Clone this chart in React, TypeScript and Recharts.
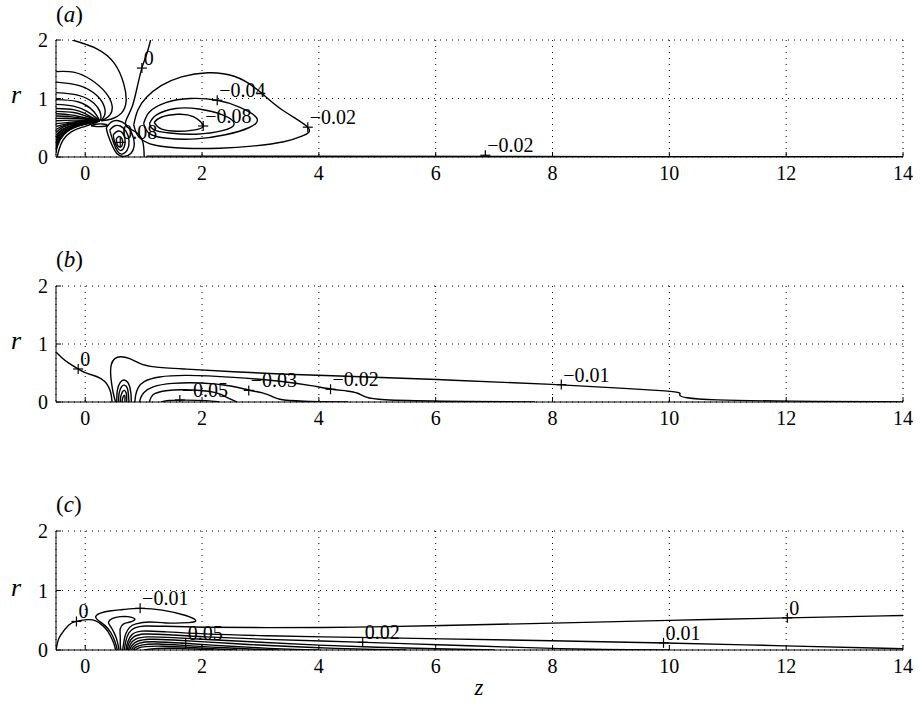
import React from "react";
import { ComposedChart, Line, Scatter, XAxis, YAxis, CartesianGrid } from "recharts";

type Pair = [number, number];
type Mark = { z: number; r: number; t: string };

const SERIF = '"Liberation Serif", "DejaVu Serif", serif';

const zTicks = [0, 2, 4, 6, 8, 10, 12, 14];
const rTicks = [0, 1, 2];

// ---- panel (a) contours, [z, r]
const aZero: Pair[] = [[1.12, 2], [1.05, 1.75], [0.97, 1.52], [0.88, 1.15], [0.8, 0.85], [0.7, 0.63], [0.72, 0.51], [0.89, 0.41], [0.99, 0.24], [1.01, 0]];
const aArc1: Pair[] = [[-0.22, 2], [0.2, 1.85], [0.5, 1.6], [0.66, 1.25], [0.7, 0.95], [0.62, 0.75], [0.45, 0.65], [0.28, 0.62]];
const aArc2: Pair[] = [[-0.5, 1.46], [-0.2, 1.45], [0.1, 1.32], [0.35, 1.1], [0.46, 0.88], [0.43, 0.73], [0.34, 0.65], [0.27, 0.62]];
const aArc3: Pair[] = [[-0.5, 1.28], [-0.1, 1.22], [0.2, 1.05], [0.33, 0.85], [0.33, 0.71], [0.27, 0.62]];
const aArc4: Pair[] = [[-0.5, 1.1], [-0.1, 1.05], [0.15, 0.92], [0.25, 0.78], [0.27, 0.68], [0.26, 0.62]];
const aArc5: Pair[] = [[-0.5, 0.98], [-0.15, 0.95], [0.08, 0.84], [0.19, 0.72], [0.25, 0.62]];
const aArc6: Pair[] = [[-0.5, 0.9], [-0.2, 0.87], [0.03, 0.78], [0.16, 0.69], [0.25, 0.62]];
const aArc7: Pair[] = [[-0.5, 0.83], [-0.2, 0.81], [0, 0.74], [0.13, 0.67], [0.25, 0.62]];
const aArc8: Pair[] = [[-0.5, 0.78], [-0.2, 0.76], [-0.02, 0.71], [0.12, 0.66], [0.25, 0.62]];
const aArc9: Pair[] = [[-0.5, 0.74], [-0.25, 0.72], [-0.05, 0.68], [0.25, 0.62]];
const aArc10: Pair[] = [[-0.5, 0.7], [-0.25, 0.69], [-0.05, 0.66], [0.25, 0.62]];
const aArc11: Pair[] = [[-0.5, 0.66], [-0.2, 0.66], [0.25, 0.62]];
const aArc12: Pair[] = [[-0.5, 0.62], [-0.2, 0.63], [0.25, 0.62]];
const aLow1: Pair[] = [[-0.5, 0.57], [-0.2, 0.6], [0.05, 0.615], [0.25, 0.62]];
const aLow2: Pair[] = [[-0.5, 0.52], [-0.3, 0.57], [0, 0.605], [0.25, 0.62]];
const aLow3: Pair[] = [[-0.5, 0.47], [-0.35, 0.54], [-0.1, 0.59], [0.25, 0.62]];
const aLow4: Pair[] = [[-0.5, 0.42], [-0.38, 0.51], [-0.15, 0.575], [0.25, 0.62]];
const aLow5: Pair[] = [[-0.5, 0.37], [-0.4, 0.47], [-0.2, 0.55], [0.05, 0.595], [0.25, 0.62]];
const aLow6: Pair[] = [[-0.5, 0.32], [-0.42, 0.44], [-0.22, 0.535], [0.05, 0.59], [0.25, 0.62]];
const aLow7: Pair[] = [[-0.5, 0.27], [-0.43, 0.4], [-0.25, 0.51], [0, 0.58], [0.25, 0.62]];
const aLow8: Pair[] = [[-0.5, 0.22], [-0.44, 0.36], [-0.27, 0.49], [0, 0.57], [0.25, 0.62]];
const aLow9: Pair[] = [[-0.5, 0.17], [-0.45, 0.31], [-0.3, 0.46], [-0.05, 0.555], [0.25, 0.62]];
const aLow10: Pair[] = [[-0.5, 0.12], [-0.46, 0.26], [-0.33, 0.43], [-0.08, 0.545], [0.25, 0.62]];
const aLow11: Pair[] = [[-0.5, 0.07], [-0.47, 0.2], [-0.36, 0.39], [-0.12, 0.53], [0.25, 0.62]];
const aDome: Pair[] = [[-0.48, 0], [-0.45, 0.12], [-0.38, 0.29], [-0.24, 0.43], [-0.05, 0.51], [0.12, 0.565], [0.25, 0.62]];
const aSmall: Pair[] = [[0.1, 0.535], [0.2, 0.52], [0.33, 0.525], [0.38, 0.545], [0.3, 0.565], [0.18, 0.56], [0.1, 0.535]];
const aPos1: Pair[] = [[0.36, 0.5], [0.45, 0.6], [0.57, 0.62], [0.7, 0.55], [0.8, 0.4], [0.84, 0.22], [0.78, 0.06], [0.66, 0.01], [0.55, 0.05], [0.46, 0.2], [0.39, 0.38], [0.36, 0.5]];
const aPos2: Pair[] = [[0.42, 0.46], [0.5, 0.53], [0.6, 0.53], [0.7, 0.44], [0.75, 0.28], [0.72, 0.12], [0.63, 0.05], [0.55, 0.1], [0.48, 0.26], [0.42, 0.46]];
const aPos3: Pair[] = [[0.48, 0.38], [0.55, 0.44], [0.63, 0.42], [0.68, 0.31], [0.67, 0.18], [0.61, 0.11], [0.55, 0.16], [0.5, 0.27], [0.48, 0.38]];
const aPos4: Pair[] = [[0.53, 0.31], [0.58, 0.35], [0.63, 0.31], [0.64, 0.22], [0.6, 0.17], [0.55, 0.21], [0.53, 0.31]];
const aNeg02: Pair[] = [[0.83, 0.55], [0.9, 0.8], [1.05, 1.02], [1.3, 1.22], [1.65, 1.37], [2.1, 1.44], [2.55, 1.38], [2.95, 1.15], [3.35, 0.82], [3.81, 0.51], [3.72, 0.36], [3.4, 0.26], [2.9, 0.19], [2.3, 0.15], [1.7, 0.15], [1.2, 0.2], [0.92, 0.34], [0.83, 0.55]];
const aNeg04: Pair[] = [[1.0, 0.57], [1.1, 0.77], [1.38, 0.93], [1.8, 1.0], [2.26, 0.97], [2.65, 0.85], [2.94, 0.66], [2.8, 0.5], [2.4, 0.38], [1.9, 0.31], [1.4, 0.32], [1.1, 0.4], [1.0, 0.57]];
const aNeg06: Pair[] = [[1.1, 0.57], [1.22, 0.72], [1.55, 0.83], [1.95, 0.82], [2.35, 0.72], [2.55, 0.57], [2.35, 0.45], [1.9, 0.39], [1.45, 0.41], [1.17, 0.47], [1.1, 0.57]];
const aNeg08: Pair[] = [[1.18, 0.59], [1.3, 0.68], [1.58, 0.73], [1.85, 0.69], [2.02, 0.53], [1.85, 0.46], [1.58, 0.44], [1.3, 0.48], [1.18, 0.59]];
const aNegAxis: Pair[] = [[1.05, 0.015], [3, 0.012], [6.85, 0.008], [14, 0.004]];

const aMarks: Mark[] = [
  { z: 0.97, r: 1.52, t: "0" },
  { z: 2.26, r: 0.97, t: "\u22120.04" },
  { z: 2.02, r: 0.53, t: "\u22120.08" },
  { z: 3.81, r: 0.51, t: "\u22120.02" },
  { z: 0.6, r: 0.25, t: "0.08" },
  { z: 6.85, r: 0.03, t: "\u22120.02" },
];

// ---- panel (b)
const bZero: Pair[] = [[-0.5, 0.86], [-0.4, 0.76], [-0.3, 0.68], [-0.12, 0.57], [0, 0.5], [0.11, 0.47], [0.28, 0.41], [0.38, 0.31], [0.43, 0.2], [0.45, 0.1], [0.46, 0]];
const bNeg01: Pair[] = [[0.52, 0], [0.48, 0.14], [0.45, 0.32], [0.43, 0.5], [0.44, 0.66], [0.5, 0.76], [0.6, 0.79], [0.76, 0.76], [0.93, 0.66], [1.13, 0.6], [1.69, 0.57], [2.54, 0.52], [3.39, 0.48], [4, 0.46], [6, 0.39], [8.15, 0.3], [9.3, 0.23], [10, 0.19], [10.22, 0.16], [10.15, 0.12], [10.25, 0.07], [10.67, 0.035], [12, 0.012], [14, 0.003]];
const bArch1: Pair[] = [[0.54, 0], [0.55, 0.2], [0.6, 0.34], [0.67, 0.38], [0.74, 0.32], [0.78, 0.17], [0.79, 0]];
const bArch2: Pair[] = [[0.57, 0], [0.58, 0.15], [0.62, 0.26], [0.67, 0.29], [0.72, 0.24], [0.74, 0.12], [0.75, 0]];
const bArch3: Pair[] = [[0.6, 0], [0.61, 0.1], [0.64, 0.18], [0.67, 0.2], [0.7, 0.16], [0.71, 0.08], [0.71, 0]];
const bArch4: Pair[] = [[0.63, 0], [0.64, 0.06], [0.66, 0.11], [0.68, 0.1], [0.68, 0.04], [0.68, 0]];
const bNeg02: Pair[] = [[0.85, 0], [0.86, 0.12], [0.9, 0.25], [0.99, 0.36], [1.24, 0.44], [1.69, 0.47], [2.54, 0.43], [3.39, 0.36], [3.9, 0.28], [4.2, 0.22], [4.5, 0.19], [4.67, 0.16], [4.8, 0.075], [5, 0.035], [6, 0.012], [7.7, 0]];
const bNeg03: Pair[] = [[0.93, 0], [0.95, 0.08], [0.99, 0.16], [1.13, 0.27], [1.47, 0.33], [1.98, 0.34], [2.54, 0.28], [2.8, 0.2], [3.05, 0.16], [3.2, 0.1], [3.28, 0.045], [3.67, 0.01], [4.5, 0]];
const bNeg04: Pair[] = [[1.1, 0], [1.12, 0.08], [1.18, 0.15], [1.35, 0.2], [1.69, 0.22], [2.15, 0.19], [2.35, 0.13], [2.45, 0.06], [2.6, 0]];
const bNeg05: Pair[] = [[1.3, 0], [1.4, 0.03], [1.7, 0.035], [2.1, 0.028], [2.3, 0]];

const bMarks: Mark[] = [
  { z: -0.12, r: 0.57, t: "0" },
  { z: 1.62, r: 0.035, t: "\u22120.05" },
  { z: 2.8, r: 0.2, t: "\u22120.03" },
  { z: 4.2, r: 0.22, t: "\u22120.02" },
  { z: 8.15, r: 0.3, t: "\u22120.01" },
];

// ---- panel (c)
const cDome: Pair[] = [[-0.5, 0], [-0.47, 0.14], [-0.42, 0.25], [-0.28, 0.42], [-0.15, 0.48], [0.03, 0.51], [0.18, 0.49], [0.3, 0.41], [0.39, 0.31], [0.46, 0.18], [0.5, 0.08], [0.52, 0]];
const cNeg01: Pair[] = [[0.55, 0], [0.51, 0.14], [0.44, 0.29], [0.34, 0.41], [0.22, 0.5], [0.18, 0.56], [0.26, 0.62], [0.45, 0.66], [0.65, 0.68], [0.94, 0.7], [1.32, 0.67], [1.72, 0.58], [1.89, 0.5], [1.77, 0.46], [1.38, 0.455], [1.1, 0.47], [0.87, 0.44], [0.76, 0.38], [0.69, 0.26], [0.66, 0.12], [0.64, 0]];
const cNeg02: Pair[] = [[0.58, 0], [0.55, 0.14], [0.5, 0.28], [0.43, 0.4], [0.4, 0.47], [0.47, 0.53], [0.6, 0.56], [0.73, 0.56], [0.85, 0.52], [0.77, 0.47], [0.66, 0.44], [0.6, 0.36], [0.6, 0.22], [0.6, 0.1], [0.61, 0]];
const cFan0: Pair[] = [[0.67, 0], [0.69, 0.15], [0.74, 0.3], [0.84, 0.38], [1.0, 0.41], [1.3, 0.4], [2, 0.38], [3, 0.375], [4.7, 0.38], [6, 0.41], [8, 0.45], [10, 0.5], [12.02, 0.54], [14, 0.58]];
const cFan1: Pair[] = [[0.7, 0], [0.72, 0.14], [0.79, 0.27], [0.93, 0.33], [1.3, 0.31], [2, 0.27], [3, 0.24], [4.7, 0.21], [6, 0.19], [8, 0.155], [9.9, 0.12], [12, 0.07], [14, 0.02]];
const cFan2: Pair[] = [[0.72, 0], [0.74, 0.12], [0.82, 0.23], [0.97, 0.28], [1.4, 0.26], [2, 0.22], [3, 0.18], [4.75, 0.13], [6, 0.09], [7.5, 0.04], [8.6, 0.01], [10, 0]];
const cFan3: Pair[] = [[0.74, 0], [0.77, 0.11], [0.85, 0.19], [1.02, 0.23], [1.5, 0.21], [2, 0.18], [3, 0.13], [4, 0.08], [5, 0.045], [6, 0.02], [7, 0]];
const cFan4: Pair[] = [[0.76, 0], [0.8, 0.09], [0.88, 0.15], [1.06, 0.19], [1.5, 0.17], [2, 0.14], [2.8, 0.09], [3.5, 0.06], [4.3, 0.025], [5, 0.008], [5.5, 0]];
const cFan5: Pair[] = [[0.79, 0], [0.83, 0.07], [0.92, 0.12], [1.1, 0.15], [1.72, 0.11], [2.5, 0.06], [3.2, 0.025], [3.6, 0.008], [4, 0]];
const cFan6: Pair[] = [[0.82, 0], [0.86, 0.05], [0.96, 0.09], [1.2, 0.11], [1.72, 0.075], [2.4, 0.035], [3, 0.01], [3.3, 0]];
const cFan7: Pair[] = [[0.86, 0], [0.9, 0.035], [1.0, 0.06], [1.3, 0.07], [1.8, 0.045], [2.3, 0.015], [2.6, 0]];
const cFan8: Pair[] = [[1.0, 0], [1.2, 0.03], [1.6, 0.03], [2.0, 0.01], [2.2, 0]];

const cMarks: Mark[] = [
  { z: -0.15, r: 0.48, t: "0" },
  { z: 0.94, r: 0.7, t: "\u22120.01" },
  { z: 1.72, r: 0.11, t: "0.05" },
  { z: 4.75, r: 0.13, t: "0.02" },
  { z: 9.9, r: 0.12, t: "0.01" },
  { z: 12.02, r: 0.54, t: "0" },
];

const toPts = (a: Pair[]) => a.map(([z, r]) => ({ z, r }));

const PlusLabel = (p: any) => {
  const { cx, cy, payload } = p;
  return (
    <g>
      <line x1={cx - 5} x2={cx + 5} y1={cy} y2={cy} stroke="#000" strokeWidth={1.2} />
      <line x1={cx} x2={cx} y1={cy - 5} y2={cy + 5} stroke="#000" strokeWidth={1.2} />
      <text x={cx + 2} y={cy - 3} fontSize={20} fontFamily={SERIF} fill="#000">
        {payload.t}
      </text>
    </g>
  );
};

const axisStroke = { stroke: "#000", strokeWidth: 1 };

type PanelProps = { top: number; h: number; lines: Pair[][]; loops: Pair[][]; marks: Mark[] };

const Panel = ({ top, h, lines, loops, marks }: PanelProps) => (
  <div style={{ position: "absolute", left: 0, top: top - 10 }}>
    <ComposedChart width={923} height={h + 50} margin={{ top: 10, right: 20, bottom: 0, left: 26 }}>
      <CartesianGrid xAxisId="b" yAxisId="l" stroke="#000" strokeDasharray="1 5" />
      <XAxis
        xAxisId="b"
        dataKey="z"
        type="number"
        domain={[-0.5, 14]}
        ticks={zTicks}
        interval={0}
        allowDataOverflow
        height={40}
        tickSize={-5}
        tickMargin={14}
        axisLine={axisStroke}
        tickLine={axisStroke}
        tick={{ fill: "#000", fontSize: 20, fontFamily: SERIF }}
      />
      <XAxis
        xAxisId="t"
        orientation="top"
        dataKey="z"
        type="number"
        domain={[-0.5, 14]}
        ticks={zTicks}
        interval={0}
        allowDataOverflow
        height={0}
        tickSize={-5}
        axisLine={axisStroke}
        tickLine={axisStroke}
        tick={false}
      />
      <YAxis
        yAxisId="l"
        dataKey="r"
        type="number"
        domain={[0, 2]}
        ticks={rTicks}
        interval={0}
        allowDataOverflow
        width={30}
        tickSize={-5}
        tickMargin={13}
        axisLine={axisStroke}
        tickLine={axisStroke}
        tick={{ fill: "#000", fontSize: 20, fontFamily: SERIF }}
      />
      <YAxis
        yAxisId="r"
        orientation="right"
        dataKey="r"
        type="number"
        domain={[0, 2]}
        ticks={rTicks}
        interval={0}
        allowDataOverflow
        width={0}
        tickSize={-5}
        axisLine={axisStroke}
        tickLine={axisStroke}
        tick={false}
      />
      {lines.map((l, i) => (
        <Line
          key={"l" + i}
          xAxisId="b"
          yAxisId="l"
          data={toPts(l)}
          dataKey="r"
          type="basis"
          stroke="#000"
          strokeWidth={1.4}
          dot={false}
          activeDot={false}
          isAnimationActive={false}
        />
      ))}
      {loops.map((l, i) => (
        <Line
          key={"o" + i}
          xAxisId="b"
          yAxisId="l"
          data={toPts(l)}
          dataKey="r"
          type="natural"
          stroke="#000"
          strokeWidth={1.4}
          dot={false}
          activeDot={false}
          isAnimationActive={false}
        />
      ))}
      <Scatter xAxisId="b" yAxisId="l" data={marks} dataKey="r" shape={PlusLabel} isAnimationActive={false} />
    </ComposedChart>
  </div>
);

const Txt = ({ x, base, fs, italic, children, center }: any) => (
  <div
    style={{
      position: "absolute",
      left: x,
      top: base - 0.84 * fs,
      fontSize: fs,
      lineHeight: 1,
      fontStyle: italic ? "italic" : "normal",
      whiteSpace: "nowrap",
      transform: center ? "translateX(-50%)" : undefined,
    }}
  >
    {children}
  </div>
);

const Tag = ({ base, letter }: { base: number; letter: string }) => (
  <Txt x={56} base={base} fs={23}>
    (<i>{letter}</i>)
  </Txt>
);

export default function App() {
  const aLoops = [
    aZero, aArc1, aArc2, aArc3, aArc4, aArc5, aArc6, aArc7, aArc8, aArc9, aArc10, aArc11, aArc12,
    aLow1, aLow2, aLow3, aLow4, aLow5, aLow6, aLow7, aLow8, aLow9, aLow10, aLow11, aDome, aSmall,
    aPos1, aPos2, aPos3, aPos4, aNeg02, aNeg04, aNeg06, aNeg08,
  ];
  const aLines = [aNegAxis];
  const bLines = [bZero, bNeg01, bNeg02, bNeg03, bNeg04, bNeg05];
  const bLoops = [bArch1, bArch2, bArch3, bArch4];
  const cLines = [cFan0, cFan1, cFan2, cFan3, cFan4, cFan5, cFan6, cFan7, cFan8];
  const cLoops = [cDome, cNeg01, cNeg02];
  return (
    <div style={{ position: "absolute", left: 0, top: 0, width: 923, height: 703, background: "#fff", fontFamily: SERIF, color: "#000" }}>
      <Panel top={40} h={117} lines={aLines} loops={aLoops} marks={aMarks} />
      <Panel top={286} h={116} lines={bLines} loops={bLoops} marks={bMarks} />
      <Panel top={531} h={119} lines={cLines} loops={cLoops} marks={cMarks} />
      <Tag base={22} letter="a" />
      <Tag base={267} letter="b" />
      <Tag base={512} letter="c" />
      <Txt x={11} base={104} fs={26} italic>r</Txt>
      <Txt x={11} base={350} fs={26} italic>r</Txt>
      <Txt x={11} base={597} fs={26} italic>r</Txt>
      <Txt x={479} base={695} fs={23} italic center>z</Txt>
    </div>
  );
}
